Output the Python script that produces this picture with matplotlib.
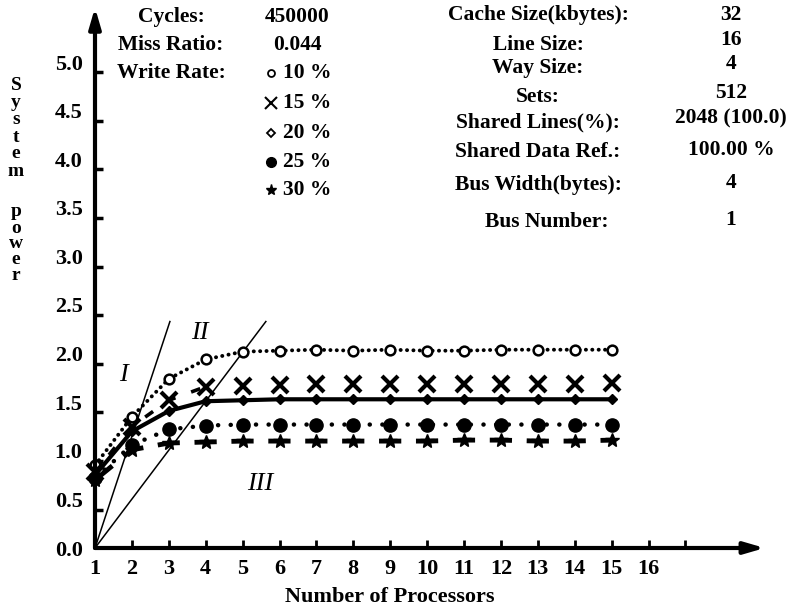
import numpy as np
import matplotlib
matplotlib.use("Agg")
from matplotlib import pyplot as plt

plt.rcParams['font.family'] = ['Liberation Serif', 'DejaVu Serif']
plt.rcParams['font.weight'] = 'bold'
plt.rcParams['lines.scale_dashes'] = False

# data
procs = [1, 2, 3, 4, 5, 6, 7, 8, 9, 10, 11, 12, 13, 14, 15]
wr10 = [0.85, 1.35, 1.74, 1.94, 2.02, 2.03, 2.04, 2.03, 2.04, 2.03, 2.03, 2.04, 2.04, 2.04, 2.04]
wr15 = [0.78, 1.25, 1.52, 1.66, 1.67, 1.68, 1.69, 1.69, 1.69, 1.69, 1.69, 1.69, 1.69, 1.69, 1.70]
wr20 = [0.75, 1.20, 1.41, 1.51, 1.52, 1.53, 1.53, 1.53, 1.53, 1.53, 1.53, 1.53, 1.53, 1.53, 1.53]
wr25 = [0.72, 1.06, 1.22, 1.26, 1.27, 1.27, 1.27, 1.27, 1.27, 1.27, 1.27, 1.27, 1.27, 1.27, 1.27]
wr30 = [0.70, 1.01, 1.08, 1.09, 1.10, 1.10, 1.10, 1.10, 1.10, 1.10, 1.11, 1.11, 1.10, 1.10, 1.11]

line1_x = [1, 3.03]
line1_y = [0, 2.33]
line2_x = [1, 5.63]
line2_y = [0, 2.33]

xticks = [1, 2, 3, 4, 5, 6, 7, 8, 9, 10, 11, 12, 13, 14, 15, 16, 17]
xticklabels = ['1', '2', '3', '4', '5', '6', '7', '8', '9', '10', '11', '12', '13', '14', '15', '16', '']
yticks = [0.0, 0.5, 1.0, 1.5, 2.0, 2.5, 3.0, 3.5, 4.0, 4.5, 5.0]
yticklabels = ['0.0', '0.5', '1.0', '1.5', '2.0', '2.5', '3.0', '3.5', '4.0', '4.5', '5.0']

left_labels = ['Cycles:', 'Miss Ratio:', 'Write Rate:']
left_values = ['450000', '0.044']
rates = ['10 %', '15 %', '20 %', '25 %', '30 %']
right_labels = ['Cache Size(kbytes):', 'Line Size:', 'Way Size:', 'Sets:',
                'Shared Lines(%):', 'Shared Data Ref.:', 'Bus Width(bytes):', 'Bus Number:']
right_values = ['32', '16', '4', '512', '2048 (100.0)', '100.00 %', '4', '1']

W, H = 793, 611
fig = plt.figure(figsize=(W / 100, H / 100), dpi=100)
x0, x1 = 1, 19.2
y0, y1 = 0, 5.57
px0, px1 = 95, 95 + (x1 - x0) * 36.9
py0, py1 = 548, 548 - (y1 - y0) * 97.2
ax = fig.add_axes([px0 / W, 1 - py0 / H, (px1 - px0) / W, (py0 - py1) / H])
ax.set_xlim(x0, x1)
ax.set_ylim(y0, y1)
for s in ax.spines.values():
    s.set_visible(False)

# axes with arrows
arr = dict(arrowstyle='-|>,head_length=1.2,head_width=0.35', lw=3, color='black', shrinkA=0, shrinkB=0)
ax.annotate('', xy=(19.15, 0), xytext=(1, 0), arrowprops=arr, annotation_clip=False)
ax.annotate('', xy=(1, 5.56), xytext=(1, 0), arrowprops=arr, annotation_clip=False)

ax.set_xticks(xticks)
ax.set_xticklabels(xticklabels, fontsize=16, fontweight='bold')
ax.tick_params(axis='x', direction='in', length=6, width=2, pad=8)
ax.set_yticks(yticks)
ax.set_yticklabels(yticklabels, fontsize=16, fontweight='bold')
ax.tick_params(axis='y', which='major', length=0, pad=9)
ax.set_yticks([v - 0.105 for v in yticks[1:]], minor=True)
ax.tick_params(axis='y', which='minor', direction='in', length=6, width=2.5)

# region boundaries
ax.plot(line1_x, line1_y, color='black', lw=1.1)
ax.plot(line2_x, line2_y, color='black', lw=1.1)
ax.text(1.76, 1.78, 'I', fontsize=19, style='italic', fontweight='normal', ha='center', va='center')
ax.text(3.85, 2.21, 'II', fontsize=19, style='italic', fontweight='normal', ha='center', va='center')
ax.text(5.47, 0.66, 'III', fontsize=19, style='italic', fontweight='normal', ha='center', va='center')

# series
ax.plot(procs, wr10, color='black', lw=2.8, linestyle=(0, (0.1, 4.5)), dash_capstyle='round',
        marker='o', ms=7, mfc='white', mec='black', mew=1.8, clip_on=False)
ax.plot(procs[:4], wr15[:4], color='black', lw=2.6, linestyle=(3, (7, 12)))
ax.plot(procs, wr15, color='black', ls='none', marker='x', ms=11, mew=3, clip_on=False)
ax.plot(procs, wr20, color='black', lw=3, marker='D', ms=5, mfc='black', mec='black', clip_on=False)
ax.plot(procs, wr25, color='black', lw=3.2, linestyle=(0, (0.1, 9)), dash_capstyle='round',
        marker='o', ms=9.5, mfc='black', mec='black', clip_on=False)

# long dashes centred on the star markers
pts = ax.transData.transform(np.column_stack([procs, wr30]))
seg = np.hypot(*np.diff(pts, axis=0).T) * 72 / fig.dpi
cum = np.concatenate([[0], np.cumsum(seg)])
dash = 16
period = seg[-1]
off = (dash / 2 - cum[-1]) % period
ax.plot(procs, wr30, color='black', lw=3.5, linestyle=(off, (dash, period - dash)),
        marker='*', ms=10, mfc='black', mec='black', clip_on=False)

# vertical y-axis title, one letter per line
sy = 86
for ch in 'System':
    fig.text(16 / W, 1 - sy / H, ch, fontsize=14, ha='center', va='center')
    sy += 17
sy = 212
for ch in 'power':
    fig.text(16 / W, 1 - sy / H, ch, fontsize=14, ha='center', va='center')
    sy += 16

fig.text(390 / W, 1 - 597 / H, 'Number of Processors', fontsize=16, ha='center', va='center')

# header block
for lab, yy in zip(left_labels, [17, 45, 73]):
    fig.text(171 / W, 1 - yy / H, lab, fontsize=15.5, ha='center', va='center')
for val, yy in zip(left_values, [17, 45]):
    fig.text(297 / W, 1 - yy / H, val, fontsize=15.5, ha='center', va='center')
leg_marks = [dict(marker='o', ms=5, mfc='white', mec='black', mew=1.3),
             dict(marker='x', ms=8, mec='black', mew=1.5),
             dict(marker='D', ms=4.5, mfc='white', mec='black', mew=1.3),
             dict(marker='o', ms=7, mfc='black', mec='black'),
             dict(marker='*', ms=8, mfc='black', mec='black')]
for rt, mk, yy in zip(rates, leg_marks, [73, 103, 133, 162, 190]):
    ax.plot([271 / W], [1 - yy / H], transform=fig.transFigure, clip_on=False, color='black', **mk)
    fig.text(283 / W, 1 - yy / H, rt, fontsize=15.5, ha='left', va='center')

for lab, val, yy, vy in zip(right_labels, right_values,
                            [15, 45, 68, 97, 122, 152, 185, 222],
                            [15, 40, 64, 93, 118, 150, 183, 220]):
    cx = 547 if lab == 'Bus Number:' else 538
    fig.text(cx / W, 1 - yy / H, lab, fontsize=15.5, ha='center', va='center')
    fig.text(731 / W, 1 - vy / H, val, fontsize=15.5, ha='center', va='center')

fig.savefig('out.png', dpi=100)
